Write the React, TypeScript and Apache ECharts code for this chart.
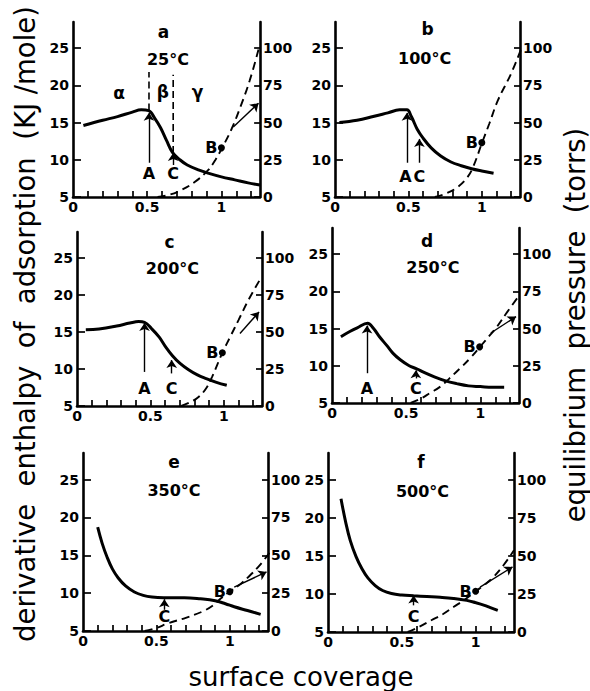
import React, { useEffect, useRef } from "react";
import * as echarts from "echarts";

const FONT = "'DejaVu Sans', sans-serif";

// ---------- data ----------
const panelLetters = ["a", "b", "c", "d", "e", "f"];
const temperatures = ["25°C", "100°C", "200°C", "250°C", "350°C", "500°C"];

// derivative enthalpy of adsorption (kJ/mole) vs surface coverage
const enthalpyA = [[0.07,14.6],[0.2,15.3],[0.3,15.8],[0.4,16.4],[0.46,16.7],[0.51,16.6],[0.55,15.6],[0.59,14.3],[0.63,12.6],[0.67,11.0],[0.72,10.0],[0.77,9.3],[0.85,8.6],[0.91,8.2],[1.0,7.7],[1.09,7.3],[1.18,6.9],[1.26,6.6]];
const enthalpyB = [[0.03,15.0],[0.15,15.3],[0.26,15.8],[0.36,16.3],[0.44,16.7],[0.49,16.7],[0.52,15.8],[0.56,14.1],[0.6,12.9],[0.655,11.6],[0.72,10.5],[0.79,9.7],[0.86,9.2],[0.93,8.8],[1.0,8.5],[1.08,8.2]];
const enthalpyC = [[0.06,15.3],[0.15,15.4],[0.27,15.8],[0.36,16.2],[0.42,16.4],[0.46,16.3],[0.51,15.4],[0.56,14.3],[0.6,13.1],[0.65,11.8],[0.7,10.8],[0.76,9.9],[0.82,9.2],[0.88,8.7],[0.95,8.2],[1.02,7.8]];
const enthalpyD = [[0.06,13.9],[0.12,14.6],[0.17,15.1],[0.24,15.7],[0.28,15.0],[0.32,13.9],[0.37,12.7],[0.41,11.7],[0.46,10.8],[0.52,10.0],[0.57,9.6],[0.62,9.1],[0.69,8.5],[0.76,8.0],[0.84,7.6],[0.92,7.3],[1.0,7.2],[1.08,7.1],[1.16,7.1]];
const enthalpyE = [[0.1,18.7],[0.13,16.6],[0.165,14.7],[0.2,13.2],[0.24,12.0],[0.29,10.95],[0.35,10.15],[0.41,9.7],[0.47,9.48],[0.55,9.4],[0.69,9.4],[0.8,9.25],[0.9,9.0],[0.97,8.6],[1.03,8.2],[1.12,7.7],[1.21,7.2]];
const enthalpyF = [[0.088,22.5],[0.12,19.4],[0.151,17.0],[0.19,14.9],[0.23,13.3],[0.27,12.1],[0.32,11.1],[0.37,10.45],[0.43,10.05],[0.5,9.85],[0.58,9.75],[0.67,9.65],[0.76,9.55],[0.85,9.4],[0.94,9.15],[1.0,8.85],[1.06,8.5],[1.1,8.2],[1.15,7.85]];

// equilibrium pressure (torrs) vs surface coverage
const pressureA = [[0.57,0],[0.65,1.5],[0.73,4.7],[0.82,10],[0.91,18],[0.96,25],[1.01,34],[1.07,46],[1.13,61],[1.19,78],[1.25,99]];
const pressureB = [[0.68,0],[0.76,2.5],[0.84,7],[0.9,13],[0.94,20],[1.0,36],[1.05,49],[1.11,65],[1.2,83],[1.27,100]];
const pressureC = [[0.71,0],[0.77,2.5],[0.83,6.3],[0.88,12],[0.92,19.7],[0.99,35.9],[1.05,48],[1.1,58],[1.17,72],[1.25,86]];
const pressureD = [[0.53,0],[0.6,3],[0.66,6.7],[0.73,11],[0.79,16.4],[0.86,23],[0.93,30],[1.0,38],[1.06,45],[1.11,51],[1.18,61],[1.26,72]];
const pressureE = [[0.42,0],[0.5,2],[0.58,5.1],[0.7,8.7],[0.81,12.7],[0.88,16.5],[0.94,21.6],[1.0,26],[1.06,30],[1.13,36],[1.2,43],[1.27,51.6]];
const pressureF = [[0.54,0],[0.62,3.5],[0.7,7.7],[0.78,11.8],[0.85,16.4],[0.93,21.5],[1.0,26.7],[1.06,31],[1.12,36],[1.19,44],[1.26,53.6]];

const enthalpyCurves = [enthalpyA, enthalpyB, enthalpyC, enthalpyD, enthalpyE, enthalpyF];
const pressureCurves = [pressureA, pressureB, pressureC, pressureD, pressureE, pressureF];

// point B on pressure curves (coverage, torrs)
const pointB = [[1.0,33],[1.0,36.5],[0.99,35.9],[0.995,37.7],[1.0,26],[1.0,26.7]];
// arrows pointing from the pressure curve to the right axis
const pressureArrows = [
  [[1.08,47],[1.25,63]],
  [[1.09,53],[1.27,66]],
  [[1.11,49],[1.24,63.5]],
  [[1.07,47],[1.24,58]],
  [[1.03,29],[1.25,39]],
  [[1.03,29.5],[1.25,42.7]],
];
// vertical arrows A and C: [coverage, from enthalpy, to enthalpy]
const arrowA = [[0.512,9.6,16.3],[0.49,9.6,16.3],[0.46,9.6,16.2],[0.236,9.0,15.4],null,null];
const arrowC = [[0.675,9.3,10.9],[0.575,9.6,12.8],[0.645,9.4,11.2],[0.565,8.3,9.4],[0.554,7.8,9.2],[0.58,8.5,9.8]];
const labelA = [[0.512,8.1],[0.48,7.7],[0.46,7.4],[0.236,6.9],null,null];
const labelC = [[0.675,8.1],[0.575,7.7],[0.645,7.4],[0.565,6.9],[0.554,6.9],[0.58,7.0]];
// panel letter and temperature annotations (coverage, enthalpy)
const letterPos = [[0.61,27.1],[0.63,27.5],[0.63,27.1],[0.64,26.7],[0.62,27.3],[0.63,27.3]];
const tempPos = [[0.64,23.4],[0.61,23.6],[0.65,23.6],[0.68,23.15],[0.62,23.6],[0.64,23.5]];
// phase regions of panel a
const phaseLabels = ["α", "β", "γ"];
const phasePos = [[0.31,19.0],[0.605,19.1],[0.84,19.1]];
const phaseBounds = [[0.512,16.6,21.8],[0.675,10.9,21.4]];

// axes ticks
const xTickValues = [0.1,0.2,0.3,0.4,0.5,0.6,0.7,0.8,0.9,1.0,1.1,1.2];
const xLabelValues = [0, 0.5, 1];
const enthalpyTicks = [5, 10, 15, 20, 25];
const pressureTicks = [0, 25, 50, 75, 100];

// ---------- layout ----------
const layout = [
  { left: 73, top: 22, width: 187, height: 175 },
  { left: 335, top: 22, width: 185, height: 175 },
  { left: 77, top: 232, width: 185, height: 174 },
  { left: 332, top: 228, width: 187, height: 175 },
  { left: 83, top: 453, width: 185, height: 178 },
  { left: 328, top: 453, width: 186, height: 179 },
];

function buildOption() {
  const black = "#000";
  const tickLabel = { color: black, fontFamily: FONT, fontWeight: "bold", fontSize: 14 };
  const textLabel = {
    show: true, position: [0, 0], align: "center", verticalAlign: "middle",
    color: black, fontFamily: FONT, fontSize: 16, fontWeight: "bold",
    textBorderWidth: 0, textBorderColor: "transparent", opacity: 1,
  };
  const grid: any[] = [];
  const xAxis: any[] = [];
  const yAxis: any[] = [];
  const series: any[] = [];

  layout.forEach((l, i) => {
    grid.push({ ...l, containLabel: false, outerBoundsMode: "none" });
    xAxis.push({
      type: "value", gridIndex: i, min: 0, max: 1.26,
      axisLine: { show: true, onZero: false, lineStyle: { color: black, width: 2.6 } },
      axisTick: { show: true, inside: true, length: 6, customValues: xTickValues, lineStyle: { color: black, width: 1.7 } },
      axisLabel: { ...tickLabel, margin: 3, customValues: xLabelValues, formatter: (v: number) => String(v) },
      splitLine: { show: false },
    });
    yAxis.push({
      type: "value", gridIndex: i, position: "left", min: 5, max: 28.5,
      axisLine: { show: true, onZero: false, lineStyle: { color: black, width: 2.6 } },
      axisTick: { show: true, inside: true, length: 8, customValues: enthalpyTicks, lineStyle: { color: black, width: 1.7 } },
      axisLabel: { ...tickLabel, margin: 4, customValues: enthalpyTicks },
      splitLine: { show: false },
    });
    yAxis.push({
      type: "value", gridIndex: i, position: "right", min: 0, max: 117.5,
      axisLine: { show: true, onZero: false, lineStyle: { color: black, width: 2.6 } },
      axisTick: { show: true, inside: true, length: 6, customValues: pressureTicks, lineStyle: { color: black, width: 1.7 } },
      axisLabel: { ...tickLabel, margin: 3, customValues: pressureTicks },
      splitLine: { show: false },
    });

    const markData: any[] = [];
    const a = arrowA[i];
    if (a) markData.push([{ coord: [a[0], a[1]] }, { coord: [a[0], a[2]] }]);
    const c = arrowC[i];
    markData.push([{ coord: [c[0], c[1]] }, { coord: [c[0], c[2]] }]);

    series.push({
      type: "line", xAxisIndex: i, yAxisIndex: 2 * i, data: enthalpyCurves[i],
      smooth: 0.4, symbol: "none", silent: true, z: 3,
      lineStyle: { color: black, width: 3 },
      markLine: {
        silent: true, symbol: ["none", "arrow"], symbolSize: 8, label: { show: false },
        lineStyle: { color: black, width: 1.4, type: "solid" }, data: markData,
      },
    });

    series.push({
      type: "line", xAxisIndex: i, yAxisIndex: 2 * i + 1, data: pressureCurves[i],
      smooth: 0.4, symbol: "none", silent: true, z: 2,
      lineStyle: { color: black, width: 1.9, type: [8, 5] },
      markLine: {
        silent: true, symbol: ["none", "arrow"], symbolSize: 8, label: { show: false },
        lineStyle: { color: black, width: 1.4, type: "solid" },
        data: [[{ coord: pressureArrows[i][0] }, { coord: pressureArrows[i][1] }]],
      },
    });

    // dot B
    series.push({
      type: "scatter", xAxisIndex: i, yAxisIndex: 2 * i + 1, data: [pointB[i]],
      symbol: "circle", symbolSize: 7, silent: true, z: 4,
      itemStyle: { color: black, opacity: 1 },
      label: { show: false },
    });
    // label B, left of the dot
    series.push({
      type: "scatter", xAxisIndex: i, yAxisIndex: 2 * i + 1,
      data: [{ value: pointB[i], label: { formatter: "B" } }],
      symbolSize: 0, silent: true, z: 5,
      itemStyle: { color: black, opacity: 0 },
      label: { ...textLabel, offset: [-10, 0] },
    });

    const texts: any[] = [];
    texts.push({ value: letterPos[i], label: { formatter: panelLetters[i], fontSize: 17 } });
    texts.push({ value: tempPos[i], label: { formatter: temperatures[i], fontSize: 16 } });
    if (labelA[i]) texts.push({ value: labelA[i], label: { formatter: "A" } });
    texts.push({ value: labelC[i], label: { formatter: "C" } });
    if (i === 0) {
      phaseLabels.forEach((t, k) => texts.push({ value: phasePos[k], label: { formatter: t, fontSize: 17 } }));
      phaseBounds.forEach((b) => {
        series.push({
          type: "line", xAxisIndex: 0, yAxisIndex: 0, data: [[b[0], b[1]], [b[0], b[2]]],
          symbol: "none", silent: true, lineStyle: { color: black, width: 1.6, type: [7, 4] },
        });
      });
    }
    series.push({
      type: "scatter", xAxisIndex: i, yAxisIndex: 2 * i, data: texts, symbolSize: 0, silent: true, z: 5,
      itemStyle: { color: black, opacity: 0 },
      label: textLabel,
    });
  });

  const titleStyle = (text: string, size: number) => ({
    text, font: `${size}px ${FONT}`, fill: "#000",
    textAlign: "center", textVerticalAlign: "middle", align: "center", verticalAlign: "middle",
  });

  return {
    animation: false,
    backgroundColor: "#fff",
    grid, xAxis, yAxis, series,
    graphic: [
      { type: "text", x: 25, y: 324, rotation: Math.PI / 2, style: titleStyle("derivative  enthalpy  of  adsorption  (KJ /mole)", 27.5) },
      { type: "text", x: 575, y: 325, rotation: Math.PI / 2, style: titleStyle("equilibrium  pressure  (torrs)", 27.5) },
      { type: "text", x: 301, y: 677, style: titleStyle("surface coverage", 26) },
    ],
  };
}

export default function App() {
  const ref = useRef<HTMLDivElement>(null);
  useEffect(() => {
    if (!ref.current) return;
    const chart = echarts.init(ref.current, null, { renderer: "svg" });
    chart.setOption(buildOption() as any);
    return () => chart.dispose();
  }, []);
  return (
    <div
      ref={ref}
      style={{ position: "absolute", left: 0, top: 0, width: 590, height: 691, background: "#fff" }}
    />
  );
}
